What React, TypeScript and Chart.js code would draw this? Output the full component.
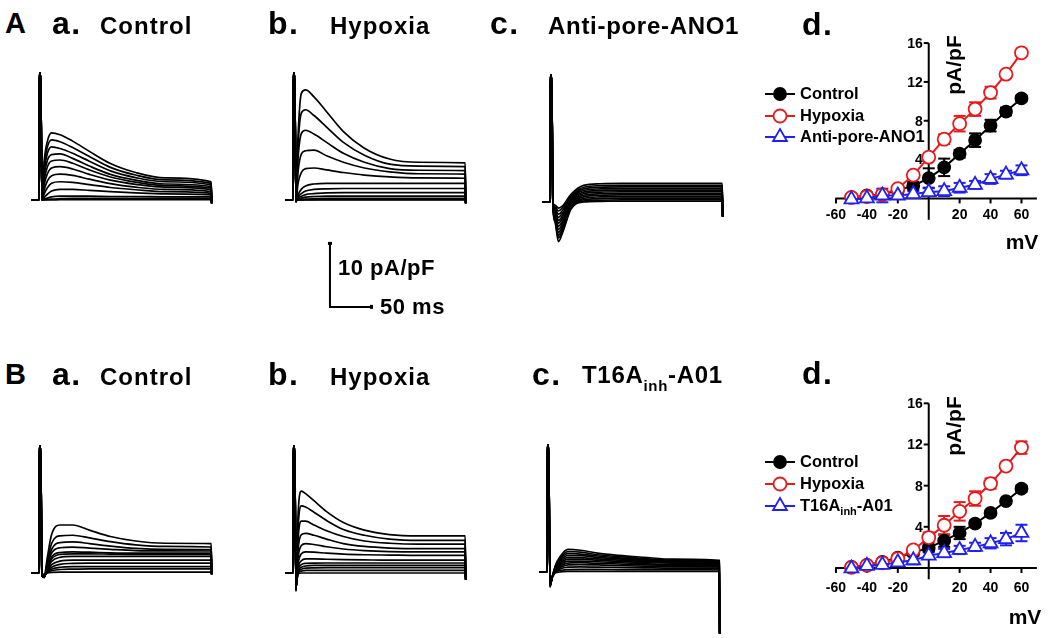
import React, { useEffect, useRef } from "react";
import { Chart, registerables } from "chart.js";

Chart.register(...registerables);

const FONT = "'Liberation Sans', Arial, Helvetica, sans-serif";

// ================= Current traces (pA/pF) sampled at TIME_MS =================
const TIME_MS = [3.5, 6, 10, 15, 25, 40, 60, 85, 115, 150, 205];
const HOLD_START_MS = -9;
const STEP_ON_MS = 0;
const SPIKE_RISE_MS = 0.3;
const SPIKE_FALL_MS = 2.0;
const STEP_OFF_MS = 205.6;
const CAPACITIVE_PEAK = 19.8;

const A_CONTROL_TRACES = [
  [0, 5.8, 9.2, 10.5, 10.2, 9.2, 7.6, 5.7, 4.3, 3.45, 2.85],
  [0, 5.1, 8.3, 9.4, 9.1, 8.2, 6.8, 5.1, 3.9, 3.15, 2.6],
  [0, 4.5, 7.3, 8.3, 8.05, 7.3, 6.05, 4.55, 3.5, 2.85, 2.35],
  [0, 3.7, 6.2, 7.1, 7.2, 6.5, 5.3, 4.0, 3.1, 2.5, 2.1],
  [0, 3.0, 5.2, 6.1, 6.25, 5.75, 4.7, 3.6, 2.8, 2.25, 1.85],
  [0, 2.3, 4.1, 5.0, 5.2, 4.85, 4.0, 3.1, 2.45, 2.0, 1.6],
  [0, 1.5, 3.0, 3.8, 4.05, 3.85, 3.25, 2.55, 2.0, 1.65, 1.3],
  [0, 0.9, 1.9, 2.6, 2.85, 2.75, 2.4, 1.95, 1.6, 1.3, 1.05],
  [0, 0.4, 0.9, 1.4, 1.65, 1.65, 1.5, 1.3, 1.1, 0.95, 0.8],
  [0, 0.15, 0.3, 0.5, 0.6, 0.6, 0.6, 0.55, 0.55, 0.5, 0.5],
  [0, 0.05, 0.1, 0.15, 0.2, 0.25, 0.25, 0.25, 0.25, 0.25, 0.25],
  [0, 0, 0, 0, 0.05, 0.05, 0.05, 0.05, 0.05, 0.05, 0.05],
];
const A_CONTROL_TAIL = -0.5;

const A_HYPOXIA_TRACES = [
  [-0.3, 10.0, 16.7, 17.2, 16.1, 13.8, 10.7, 8.1, 6.4, 5.9, 5.8],
  [-0.3, 8.5, 13.6, 14.1, 13.2, 11.4, 9.0, 7.0, 5.6, 5.3, 5.2],
  [-0.3, 6.5, 10.4, 10.9, 10.3, 9.0, 7.3, 5.9, 4.9, 4.65, 4.6],
  [-0.3, 4.4, 7.2, 7.7, 7.8, 6.9, 5.9, 5.0, 4.4, 4.1, 4.05],
  [-0.3, 2.6, 4.3, 4.9, 5.0, 4.7, 4.3, 3.9, 3.6, 3.45, 3.4],
  [-0.3, 0.8, 1.7, 2.2, 2.5, 2.6, 2.6, 2.6, 2.6, 2.6, 2.6],
  [-0.3, 0.5, 1.0, 1.4, 1.65, 1.75, 1.8, 1.8, 1.8, 1.8, 1.8],
  [-0.2, 0.3, 0.6, 0.85, 1.0, 1.1, 1.15, 1.15, 1.15, 1.15, 1.15],
  [-0.1, 0.15, 0.3, 0.45, 0.55, 0.6, 0.6, 0.6, 0.6, 0.6, 0.6],
  [0, 0.05, 0.1, 0.15, 0.2, 0.25, 0.25, 0.25, 0.25, 0.25, 0.25],
  [0, 0, 0, 0.05, 0.05, 0.1, 0.1, 0.1, 0.1, 0.1, 0.1],
  [0, 0, 0, 0, 0, 0, 0, 0, 0, 0, 0],
];
const A_HYPOXIA_TAIL = -0.5;

const A_ANTIPORE_TRACES = [
  [-0.1, -0.5, -0.95, -0.6, 1.2, 2.6, 2.85, 2.9, 2.9, 2.9, 2.9],
  [-0.15, -0.75, -1.4, -0.9, 0.9, 2.3, 2.55, 2.6, 2.6, 2.6, 2.6],
  [-0.2, -1.0, -1.9, -1.3, 0.7, 2.05, 2.3, 2.35, 2.35, 2.35, 2.35],
  [-0.25, -1.25, -2.4, -1.7, 0.5, 1.8, 2.05, 2.1, 2.1, 2.1, 2.1],
  [-0.3, -1.5, -2.85, -2.1, 0.3, 1.55, 1.8, 1.85, 1.85, 1.85, 1.85],
  [-0.35, -1.75, -3.3, -2.5, 0.1, 1.3, 1.55, 1.6, 1.6, 1.6, 1.6],
  [-0.4, -2.0, -3.8, -2.9, -0.1, 1.05, 1.3, 1.35, 1.35, 1.35, 1.35],
  [-0.45, -2.25, -4.3, -3.3, -0.3, 0.8, 1.05, 1.1, 1.1, 1.1, 1.1],
  [-0.5, -2.5, -4.75, -3.7, -0.5, 0.55, 0.8, 0.85, 0.85, 0.85, 0.85],
  [-0.55, -2.75, -5.2, -4.1, -0.7, 0.35, 0.55, 0.6, 0.6, 0.6, 0.6],
  [-0.6, -2.95, -5.6, -4.5, -0.9, 0.15, 0.3, 0.35, 0.35, 0.35, 0.35],
  [-0.6, -3.1, -6.2, -4.8, -1.1, 0.0, 0.1, 0.15, 0.15, 0.15, 0.15],
];
const A_ANTIPORE_TAIL = -2.3;

const B_CONTROL_TRACES = [
  [-0.4, -0.7, 2.5, 6.0, 7.5, 7.5, 6.7, 5.7, 5.0, 4.65, 4.6],
  [-0.4, -0.7, 1.8, 4.6, 5.8, 5.9, 5.5, 4.9, 4.4, 4.15, 4.06],
  [-0.4, -0.7, 1.4, 3.7, 4.75, 4.85, 4.6, 4.2, 3.85, 3.7, 3.65],
  [-0.4, -0.7, 1.1, 3.1, 3.95, 4.05, 3.9, 3.7, 3.5, 3.45, 3.44],
  [-0.4, -0.7, 0.9, 2.5, 3.2, 3.3, 3.25, 3.15, 3.1, 3.1, 3.1],
  [-0.4, -0.7, 0.8, 2.2, 2.9, 3.0, 3.0, 2.95, 2.9, 2.9, 2.9],
  [-0.35, -0.6, 0.6, 1.8, 2.45, 2.6, 2.6, 2.6, 2.6, 2.6, 2.6],
  [-0.3, -0.5, 0.4, 1.3, 1.85, 2.0, 2.0, 2.0, 2.0, 2.0, 2.0],
  [-0.3, -0.5, 0.3, 0.9, 1.35, 1.5, 1.55, 1.55, 1.55, 1.55, 1.55],
  [-0.2, -0.4, 0.2, 0.6, 0.9, 1.0, 1.0, 1.0, 1.0, 1.0, 1.0],
  [-0.15, -0.3, 0.1, 0.35, 0.55, 0.6, 0.65, 0.65, 0.65, 0.65, 0.65],
  [-0.1, -0.2, 0, 0.1, 0.15, 0.15, 0.15, 0.15, 0.15, 0.15, 0.15],
];
const B_CONTROL_TAIL = -0.2;

const B_HYPOXIA_TRACES = [
  [-2.8, 9.0, 12.8, 12.4, 11.3, 9.6, 7.9, 6.7, 6.0, 5.8, 5.8],
  [-2.8, 7.0, 10.5, 10.3, 9.5, 8.2, 6.8, 5.9, 5.3, 5.1, 5.1],
  [-2.8, 5.2, 8.1, 8.1, 7.5, 6.6, 5.7, 5.0, 4.65, 4.5, 4.5],
  [-2.7, 3.6, 6.0, 6.2, 5.9, 5.3, 4.6, 4.15, 3.9, 3.8, 3.8],
  [-2.6, 2.3, 4.3, 4.6, 4.45, 4.1, 3.75, 3.5, 3.35, 3.3, 3.3],
  [-2.5, 1.4, 3.0, 3.3, 3.25, 3.1, 2.95, 2.85, 2.8, 2.75, 2.75],
  [-2.4, 0.8, 1.9, 2.2, 2.2, 2.15, 2.1, 2.05, 2.0, 2.0, 2.0],
  [-2.3, 0.5, 1.3, 1.5, 1.55, 1.56, 1.56, 1.56, 1.56, 1.56, 1.56],
  [-2.2, 0.3, 0.9, 1.1, 1.2, 1.2, 1.2, 1.2, 1.2, 1.2, 1.2],
  [-2.1, 0.1, 0.6, 0.75, 0.8, 0.83, 0.83, 0.83, 0.83, 0.83, 0.83],
  [-2.0, 0.0, 0.3, 0.4, 0.42, 0.42, 0.42, 0.42, 0.42, 0.42, 0.42],
  [-2.0, -0.1, 0, 0, 0, 0, 0, 0, 0, 0, 0],
];
const B_HYPOXIA_TAIL = -1.0;

const B_T16A_TRACES = [
  [-2.35, -0.9, 1.0, 2.3, 3.55, 3.4, 2.95, 2.6, 2.3, 2.0, 1.82],
  [-2.3, -0.9, 0.9, 2.05, 3.2, 3.1, 2.7, 2.4, 2.1, 1.85, 1.7],
  [-2.25, -0.9, 0.8, 1.85, 2.9, 2.8, 2.5, 2.2, 1.95, 1.75, 1.6],
  [-2.2, -0.9, 0.7, 1.65, 2.6, 2.55, 2.3, 2.05, 1.8, 1.6, 1.5],
  [-2.15, -0.9, 0.6, 1.45, 2.3, 2.25, 2.05, 1.85, 1.65, 1.5, 1.4],
  [-2.1, -0.9, 0.5, 1.25, 2.0, 2.0, 1.85, 1.65, 1.5, 1.4, 1.3],
  [-2.05, -0.9, 0.4, 1.05, 1.7, 1.7, 1.6, 1.45, 1.3, 1.2, 1.15],
  [-2.0, -0.9, 0.3, 0.85, 1.4, 1.45, 1.35, 1.25, 1.1, 1.05, 1.0],
  [-1.95, -0.9, 0.2, 0.65, 1.1, 1.15, 1.1, 1.0, 0.9, 0.85, 0.8],
  [-1.9, -0.9, 0.1, 0.45, 0.75, 0.8, 0.75, 0.7, 0.65, 0.6, 0.6],
  [-1.85, -0.9, 0, 0.2, 0.38, 0.4, 0.4, 0.38, 0.36, 0.35, 0.35],
  [-1.8, -0.9, -0.1, 0, 0.1, 0.1, 0.1, 0.1, 0.1, 0.1, 0.1],
];
const B_T16A_TAIL = -9.6;

const SCALE_BAR_MS = 50;
const SCALE_BAR_PAPF = 10;

// ================= I-V relations (pA/pF vs mV) =================
const VOLTAGE_MV = [-50, -40, -30, -20, -10, 0, 10, 20, 30, 40, 50, 60];
const X_TICKS_MV = [-60, -40, -20, 20, 40, 60];
const X_TICK_LABELS = ["-60", "-40", "-20", "20", "40", "60"];
const Y_TICKS = [4, 8, 12, 16];
const Y_TICK_LABELS = ["4", "8", "12", "16"];

const A_IV_CONTROL = [0.1, 0.3, 0.4, 0.85, 1.3, 2.1, 3.2, 4.6, 6.0, 7.5, 8.95, 10.3];
const A_IV_CONTROL_ERR = [0.3, 0.3, 0.3, 0.3, 0.4, 1.0, 0.9, 0.4, 0.7, 0.6, 0.4, 0.3];
const A_IV_HYPOXIA = [0.1, 0.2, 0.4, 1.0, 2.4, 4.25, 6.1, 7.7, 9.2, 10.9, 12.8, 15.0];
const A_IV_HYPOXIA_ERR = [0.2, 0.2, 0.2, 0.2, 0.3, 0.3, 0.5, 0.8, 0.7, 0.6, 0.3, 0.3];
const A_IV_ANTIPORE = [-0.1, 0.0, 0.3, 0.3, 0.45, 0.65, 0.75, 1.1, 1.4, 2.0, 2.45, 2.9];
const A_IV_ANTIPORE_ERR = [0.3, 0.3, 0.7, 0.3, 0.3, 0.4, 0.5, 0.5, 0.4, 0.5, 0.4, 0.5];

const B_IV_CONTROL = [0.1, 0.3, 0.6, 1.0, 1.5, 1.95, 2.65, 3.4, 4.3, 5.35, 6.5, 7.7];
const B_IV_CONTROL_ERR = [0.2, 0.2, 0.2, 0.2, 0.3, 0.3, 0.6, 0.6, 0.3, 0.2, 0.2, 0.3];
const B_IV_HYPOXIA = [0.05, 0.25, 0.5, 0.9, 1.75, 2.95, 4.15, 5.5, 6.75, 8.2, 9.9, 11.7];
const B_IV_HYPOXIA_ERR = [0.2, 0.2, 0.2, 0.2, 0.3, 0.5, 0.9, 0.9, 0.7, 0.5, 0.3, 0.6];
const B_IV_T16A = [-0.05, 0.2, 0.3, 0.55, 0.75, 1.2, 1.45, 1.75, 2.05, 2.4, 2.8, 3.4];
const B_IV_T16A_ERR = [0.3, 0.3, 0.3, 0.3, 0.4, 0.3, 0.4, 0.4, 0.4, 0.5, 0.6, 0.8];

const A_LEGEND = [[{ t: "Control" }], [{ t: "Hypoxia" }], [{ t: "Anti-pore-ANO1" }]];
const B_LEGEND = [[{ t: "Control" }], [{ t: "Hypoxia" }], [{ t: "T16A" }, { t: "inh", sub: true }, { t: "-A01" }]];

// ================= layout =================
const PX_PER_MS = 0.84;
const PX_PER_UNIT = 6.4;
const RED = "#e8191c";
const BLUE = "#2020f0";

type Box = { left: number; top: number; width: number; height: number };

function traceData(values: number[], tail: number) {
  return [
    { x: HOLD_START_MS, y: 0 },
    { x: STEP_ON_MS, y: 0 },
    { x: SPIKE_RISE_MS, y: CAPACITIVE_PEAK },
    { x: SPIKE_FALL_MS, y: CAPACITIVE_PEAK },
    ...TIME_MS.map((t, i) => ({ x: t, y: values[i] })),
    { x: STEP_OFF_MS, y: tail },
  ];
}

function TracePanel({ box, origin, traces, tail, scaleBar }: { box: Box; origin: { x: number; y: number }; traces: number[][]; tail: number; scaleBar?: { t: number; v: number } }) {
  const ref = useRef<HTMLCanvasElement | null>(null);
  useEffect(() => {
    const canvas = ref.current;
    if (!canvas) return;
    const xmin = (box.left - origin.x) / PX_PER_MS;
    const xmax = (box.left + box.width - origin.x) / PX_PER_MS;
    const ymax = (origin.y - box.top) / PX_PER_UNIT;
    const ymin = (origin.y - (box.top + box.height)) / PX_PER_UNIT;
    const plugins: any[] = [];
    if (scaleBar) {
      plugins.push({
        id: "scaleBar",
        afterDraw(chart: any) {
          const { ctx } = chart;
          const xs = chart.scales.x;
          const ys = chart.scales.y;
          const x0 = xs.getPixelForValue(scaleBar.t);
          const x1 = xs.getPixelForValue(scaleBar.t + SCALE_BAR_MS);
          const y0 = ys.getPixelForValue(scaleBar.v);
          const y1 = ys.getPixelForValue(scaleBar.v + SCALE_BAR_PAPF);
          ctx.save();
          ctx.strokeStyle = "#000";
          ctx.fillStyle = "#000";
          ctx.lineWidth = 2;
          ctx.beginPath();
          ctx.moveTo(x0, y1);
          ctx.lineTo(x0, y0);
          ctx.lineTo(x1, y0);
          ctx.stroke();
          ctx.fillRect(x0 - 2, y1 - 1, 4, 3);
          ctx.fillRect(x1 - 2, y0 - 2, 3, 4);
          ctx.restore();
        },
      });
    }
    const chart = new Chart(canvas, {
      type: "line",
      data: {
        datasets: traces.map((vals) => ({
          data: traceData(vals, tail),
          borderColor: "#000",
          borderWidth: 1.7,
          pointRadius: 0,
          fill: false,
          cubicInterpolationMode: "monotone",
        })),
      },
      options: {
        animation: false,
        responsive: false,
        maintainAspectRatio: false,
        events: [],
        layout: { padding: 0 },
        plugins: { legend: { display: false }, tooltip: { enabled: false } },
        scales: {
          x: { type: "linear", display: false, min: xmin, max: xmax },
          y: { type: "linear", display: false, min: ymin, max: ymax },
        },
      },
      plugins,
    } as any);
    return () => chart.destroy();
  }, []);
  return (
    <canvas
      ref={ref}
      width={box.width}
      height={box.height}
      style={{ position: "absolute", left: box.left, top: box.top, width: box.width, height: box.height }}
    />
  );
}

type Series = { values: number[]; errors: number[]; color: string; fill: string; style: string; radius: number; order: number };

function drawMarker(ctx: CanvasRenderingContext2D, s: Series, x: number, y: number) {
  ctx.save();
  ctx.lineWidth = 1.8;
  ctx.strokeStyle = s.color;
  ctx.fillStyle = s.fill;
  ctx.beginPath();
  if (s.style === "triangle") {
    const r = s.radius;
    ctx.moveTo(x, y - r);
    ctx.lineTo(x + Math.sin((2 * Math.PI) / 3) * r, y + r / 2);
    ctx.lineTo(x - Math.sin((2 * Math.PI) / 3) * r, y + r / 2);
    ctx.closePath();
  } else {
    ctx.arc(x, y, s.radius, 0, Math.PI * 2);
  }
  ctx.fill();
  ctx.stroke();
  ctx.restore();
}

function IVPanel(props: {
  box: Box;
  origin: { x: number; y: number };
  pxPerMv: number;
  pxPerUnit: number;
  series: Series[];
  legend: { t: string; sub?: boolean }[][];
  legendRows: number[];
  axisX: number[];
  axisY: number[];
  xLabelOffset: number;
  unitPos: { x: number; y: number };
  mvPos: { x: number; y: number };
}) {
  const ref = useRef<HTMLCanvasElement | null>(null);
  useEffect(() => {
    const canvas = ref.current;
    if (!canvas) return;
    const { box, origin, pxPerMv, pxPerUnit, series, legend, legendRows, axisX, axisY, xLabelOffset, unitPos, mvPos } = props;
    const xmin = (box.left - origin.x) / pxPerMv;
    const xmax = (box.left + box.width - origin.x) / pxPerMv;
    const ymax = (origin.y - box.top) / pxPerUnit;
    const ymin = (origin.y - (box.top + box.height)) / pxPerUnit;
    const line = (ctx: any, a: number, b: number, c: number, d: number) => {
      ctx.beginPath();
      ctx.moveTo(a, b);
      ctx.lineTo(c, d);
      ctx.stroke();
    };
    const decor = {
      id: "ivDecor",
      beforeDatasetsDraw(chart: any) {
        const { ctx } = chart;
        const X = (v: number) => chart.scales.x.getPixelForValue(v);
        const Y = (v: number) => chart.scales.y.getPixelForValue(v);
        ctx.save();
        ctx.strokeStyle = "#000";
        ctx.fillStyle = "#000";
        ctx.lineWidth = 2;
        line(ctx, X(axisX[0]), Y(0), X(axisX[1]), Y(0));
        line(ctx, X(0), Y(axisY[0]), X(0), Y(axisY[1]));
        ctx.font = `bold 14px ${FONT}`;
        ctx.textAlign = "center";
        ctx.textBaseline = "middle";
        X_TICKS_MV.forEach((v, i) => {
          line(ctx, X(v), Y(0), X(v), Y(0) + 5);
          ctx.fillText(X_TICK_LABELS[i], X(v), Y(0) + xLabelOffset);
        });
        ctx.textAlign = "right";
        Y_TICKS.forEach((v, i) => {
          line(ctx, X(0) - 5, Y(v), X(0), Y(v));
          ctx.fillText(Y_TICK_LABELS[i], X(0) - 6, Y(v) + 1);
        });
        series.forEach((s) => {
          ctx.strokeStyle = s.color;
          ctx.lineWidth = 2;
          VOLTAGE_MV.forEach((mv, i) => {
            const px = X(mv);
            const hi = Y(s.values[i] + s.errors[i]);
            const lo = Y(s.values[i] - s.errors[i]);
            line(ctx, px, hi, px, lo);
            line(ctx, px - 6, hi, px + 6, hi);
            line(ctx, px - 6, lo, px + 6, lo);
          });
        });
        ctx.restore();
      },
      afterDraw(chart: any) {
        const { ctx } = chart;
        ctx.save();
        series.forEach((s, i) => {
          const y = legendRows[i] - box.top;
          ctx.strokeStyle = s.color;
          ctx.lineWidth = 2;
          line(ctx, 765 - box.left, y, 795 - box.left, y);
          drawMarker(ctx, s, 780 - box.left, y);
          let x = 800 - box.left;
          ctx.fillStyle = "#000";
          ctx.textAlign = "left";
          ctx.textBaseline = "middle";
          legend[i].forEach((seg) => {
            ctx.font = seg.sub ? `bold 11px ${FONT}` : `bold 16.5px ${FONT}`;
            ctx.fillText(seg.t, x, y + (seg.sub ? 6 : 0));
            x += ctx.measureText(seg.t).width;
          });
        });
        ctx.fillStyle = "#000";
        ctx.font = `bold 21px ${FONT}`;
        ctx.textAlign = "center";
        ctx.textBaseline = "middle";
        ctx.fillText("mV", mvPos.x - box.left, mvPos.y - box.top);
        ctx.translate(unitPos.x - box.left, unitPos.y - box.top);
        ctx.rotate(-Math.PI / 2);
        ctx.fillText("pA/pF", 0, 0);
        ctx.restore();
      },
    };
    const chart = new Chart(canvas, {
      type: "line",
      data: {
        datasets: series.map((s) => ({
          data: VOLTAGE_MV.map((mv, i) => ({ x: mv, y: s.values[i] })),
          borderColor: s.color,
          borderWidth: 2,
          pointStyle: s.style,
          pointRadius: s.radius,
          pointBorderWidth: 1.8,
          pointBackgroundColor: s.fill,
          pointBorderColor: s.color,
          order: s.order,
          tension: 0,
          fill: false,
        })),
      },
      options: {
        animation: false,
        responsive: false,
        maintainAspectRatio: false,
        events: [],
        layout: { padding: 0 },
        plugins: { legend: { display: false }, tooltip: { enabled: false } },
        scales: {
          x: { type: "linear", display: false, min: xmin, max: xmax },
          y: { type: "linear", display: false, min: ymin, max: ymax },
        },
      },
      plugins: [decor],
    } as any);
    return () => chart.destroy();
  }, []);
  const { box } = props;
  return (
    <canvas
      ref={ref}
      width={box.width}
      height={box.height}
      style={{ position: "absolute", left: box.left, top: box.top, width: box.width, height: box.height }}
    />
  );
}

function Label({ x, baseline, size, spacing = 0, children }: { x: number; baseline: number; size: number; spacing?: number; children: any }) {
  return (
    <div
      style={{
        position: "absolute",
        left: x,
        top: baseline - 0.8465 * size,
        fontSize: size,
        lineHeight: `${size}px`,
        fontWeight: "bold",
        fontFamily: FONT,
        letterSpacing: spacing,
        whiteSpace: "nowrap",
        color: "#000",
      }}
    >
      {children}
    </div>
  );
}

export default function App() {
  const ivA: Series[] = [
    { values: A_IV_CONTROL, errors: A_IV_CONTROL_ERR, color: "#000", fill: "#000", style: "circle", radius: 6, order: 3 },
    { values: A_IV_HYPOXIA, errors: A_IV_HYPOXIA_ERR, color: RED, fill: "#fff", style: "circle", radius: 6.5, order: 2 },
    { values: A_IV_ANTIPORE, errors: A_IV_ANTIPORE_ERR, color: BLUE, fill: "#fff", style: "triangle", radius: 8, order: 1 },
  ];
  const ivB: Series[] = [
    { values: B_IV_CONTROL, errors: B_IV_CONTROL_ERR, color: "#000", fill: "#000", style: "circle", radius: 6, order: 3 },
    { values: B_IV_HYPOXIA, errors: B_IV_HYPOXIA_ERR, color: RED, fill: "#fff", style: "circle", radius: 6.5, order: 2 },
    { values: B_IV_T16A, errors: B_IV_T16A_ERR, color: BLUE, fill: "#fff", style: "triangle", radius: 8, order: 1 },
  ];
  return (
    <div style={{ position: "absolute", left: 0, top: 0, width: 1050, height: 638, background: "#fff", overflow: "hidden" }}>
      <TracePanel box={{ left: 20, top: 60, width: 200, height: 165 }} origin={{ x: 39, y: 200 }} traces={A_CONTROL_TRACES} tail={A_CONTROL_TAIL} />
      <TracePanel box={{ left: 270, top: 60, width: 210, height: 265 }} origin={{ x: 293, y: 200 }} traces={A_HYPOXIA_TRACES} tail={A_HYPOXIA_TAIL} scaleBar={{ t: 44, v: -16.7 }} />
      <TracePanel box={{ left: 525, top: 60, width: 210, height: 200 }} origin={{ x: 550, y: 202 }} traces={A_ANTIPORE_TRACES} tail={A_ANTIPORE_TAIL} />
      <TracePanel box={{ left: 20, top: 430, width: 200, height: 170 }} origin={{ x: 39, y: 573 }} traces={B_CONTROL_TRACES} tail={B_CONTROL_TAIL} />
      <TracePanel box={{ left: 270, top: 430, width: 210, height: 180 }} origin={{ x: 293, y: 573 }} traces={B_HYPOXIA_TRACES} tail={B_HYPOXIA_TAIL} />
      <TracePanel box={{ left: 525, top: 430, width: 210, height: 208 }} origin={{ x: 547, y: 572 }} traces={B_T16A_TRACES} tail={B_T16A_TAIL} />
      <IVPanel
        box={{ left: 740, top: 0, width: 310, height: 260 }}
        origin={{ x: 931, y: 204 }}
        pxPerMv={1.65}
        pxPerUnit={10.5}
        series={ivA}
        legend={A_LEGEND}
        legendRows={[94, 116, 137]}
        axisX={[-60.5, 70]}
        axisY={[-2.2, 16]}
        xLabelOffset={17}
        unitPos={{ x: 955, y: 65 }}
        mvPos={{ x: 1022, y: 243 }}
      />
      <IVPanel
        box={{ left: 740, top: 370, width: 310, height: 268 }}
        origin={{ x: 931, y: 573 }}
        pxPerMv={1.65}
        pxPerUnit={11.1}
        series={ivB}
        legend={B_LEGEND}
        legendRows={[462, 484, 506]}
        axisX={[-60.5, 70]}
        axisY={[-1.1, 16]}
        xLabelOffset={20}
        unitPos={{ x: 955, y: 426 }}
        mvPos={{ x: 1025, y: 618 }}
      />

      <Label x={5} baseline={34} size={29}>A</Label>
      <Label x={52} baseline={34} size={32} spacing={1.5}>a.</Label>
      <Label x={100} baseline={34} size={24} spacing={1}>Control</Label>
      <Label x={268} baseline={34} size={32} spacing={1.5}>b.</Label>
      <Label x={330} baseline={34} size={24} spacing={1}>Hypoxia</Label>
      <Label x={490} baseline={34} size={32} spacing={1.5}>c.</Label>
      <Label x={548} baseline={34} size={24} spacing={0.7}>Anti-pore-ANO1</Label>
      <Label x={802} baseline={35} size={32} spacing={1.5}>d.</Label>

      <Label x={338} baseline={276} size={22} spacing={0.5}>10 pA/pF</Label>
      <Label x={380} baseline={315} size={22} spacing={0.5}>50 ms</Label>

      <Label x={5} baseline={385} size={29}>B</Label>
      <Label x={52} baseline={385} size={32} spacing={1.5}>a.</Label>
      <Label x={100} baseline={385} size={24} spacing={1}>Control</Label>
      <Label x={268} baseline={385} size={32} spacing={1.5}>b.</Label>
      <Label x={330} baseline={385} size={24} spacing={1}>Hypoxia</Label>
      <Label x={532} baseline={385} size={32} spacing={1.5}>c.</Label>
      <Label x={582} baseline={383} size={24} spacing={0.7}>
        T16A<span style={{ fontSize: 15, position: "relative", top: 8 }}>inh</span>-A01
      </Label>
      <Label x={802} baseline={384} size={32} spacing={1.5}>d.</Label>
    </div>
  );
}
